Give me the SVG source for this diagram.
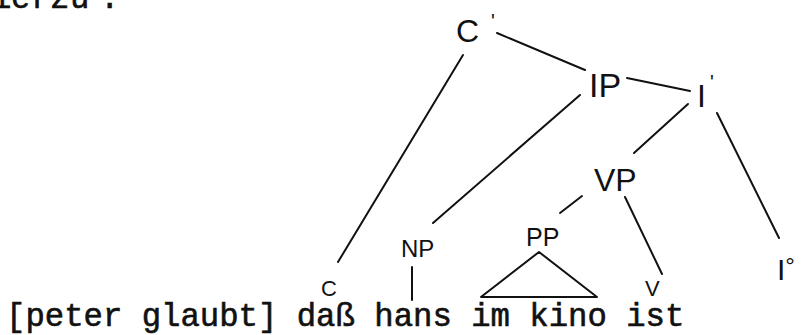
<svg xmlns="http://www.w3.org/2000/svg" width="801" height="335" viewBox="0 0 801 335">
<style>
.mono{font-family:"Liberation Mono","Courier New",monospace;font-size:32.3px;fill:#111;stroke:#111;stroke-width:0.6}
.hw{font-family:"Liberation Sans",Arial,sans-serif;fill:#111}
.edge{stroke:#111;stroke-width:2;fill:none;stroke-linecap:round;stroke-linejoin:round}
</style>
<rect width="801" height="335" fill="#fff"/>
<text class="mono" x="-27 -8 11 31 50 70 100" y="8">hierzu:</text>
<g id="edges">
<line class="edge" x1="463" y1="55" x2="338" y2="262"/>
<line class="edge" x1="497" y1="33" x2="585" y2="70"/>
<line class="edge" x1="627" y1="78" x2="690" y2="91"/>
<line class="edge" x1="580" y1="95" x2="433" y2="223"/>
<line class="edge" x1="688" y1="104" x2="634" y2="153"/>
<line class="edge" x1="717" y1="113" x2="779" y2="238"/>
<line class="edge" x1="582" y1="196" x2="560" y2="213"/>
<line class="edge" x1="625" y1="197" x2="662" y2="274"/>
<line class="edge" x1="412" y1="267" x2="412" y2="300"/>
<polygon class="edge" points="539,252 481,297 597,297"/>
</g>
<g id="node-Cbar"><text class="hw" x="456" y="42" font-size="32">C<tspan dx="12" dy="-14" font-size="20">'</tspan></text></g>
<g id="node-IP"><text class="hw" x="589" y="97" font-size="34">IP</text></g>
<g id="node-Ibar"><text class="hw" x="697" y="107" font-size="32">I<tspan dx="4" dy="-18" font-size="20">'</tspan></text></g>
<g id="node-VP"><text class="hw" x="594" y="191" font-size="32">VP</text></g>
<g id="node-PP"><text class="hw" x="526" y="246" font-size="25">PP</text></g>
<g id="node-NP"><text class="hw" x="401" y="257" font-size="24">NP</text></g>
<g id="node-C"><text class="hw" x="321" y="296" font-size="22">C</text></g>
<g id="node-V"><text class="hw" x="645" y="296" font-size="22">V</text></g>
<g id="node-I0"><text class="hw" x="777" y="280" font-size="30">I<tspan font-size="24" dy="-6">°</tspan></text></g>
<text class="mono" x="6" y="326">[peter glaubt] daß hans im kino ist</text>
</svg>
